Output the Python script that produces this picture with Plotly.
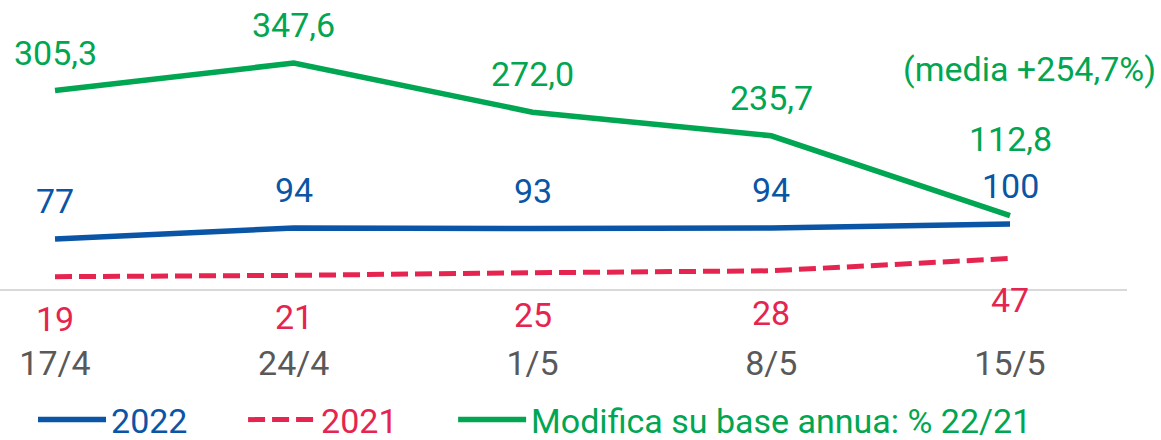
import plotly.graph_objects as go

categories = ["17/4", "24/4", "1/5", "8/5", "15/5"]
values_2022 = [77, 94, 93, 94, 100]
values_2021 = [19, 21, 25, 28, 47]
values_change = [305.3, 347.6, 272.0, 235.7, 112.8]

BLUE = "#0a55a5"
RED = "#e5254f"
GREEN = "#00a651"
GRAY = "#595959"
FONT = "Roboto"
FS = 34
PAD = "&nbsp;" * 6


def fmt(v):
    return f"{v:.1f}".replace(".", ",")


fig = go.Figure()
fig.add_trace(go.Scatter(
    x=categories, y=values_2022, mode="lines",
    line=dict(color=BLUE, width=5.5),
    name=f"<span style='color:{BLUE}'>2022</span>{PAD}"))
fig.add_trace(go.Scatter(
    x=categories, y=values_2021, mode="lines",
    line=dict(color=RED, width=5, dash="17px,7px"),
    name=f"<span style='color:{RED}'>2021</span>{PAD}"))
fig.add_trace(go.Scatter(
    x=categories, y=values_change, mode="lines",
    line=dict(color=GREEN, width=5.5),
    name=f"<span style='color:{GREEN}'>Modifica su base annua: % 22/21</span>"))

annotations = []
for i, c in enumerate(categories):
    annotations.append(dict(x=c, y=values_2022[i], text=str(values_2022[i]),
                            showarrow=False, yshift=38, yanchor="middle",
                            font=dict(color=BLUE, size=FS, family=FONT)))
    annotations.append(dict(x=c, y=values_2021[i], text=str(values_2021[i]),
                            showarrow=False, yshift=-42, yanchor="middle",
                            font=dict(color=RED, size=FS, family=FONT)))
    shift = 77 if i == len(categories) - 1 else 38
    annotations.append(dict(x=c, y=values_change[i], text=fmt(values_change[i]),
                            showarrow=False, yshift=shift, yanchor="middle",
                            font=dict(color=GREEN, size=FS, family=FONT)))

mean_change = sum(values_change) / len(values_change)
annotations.append(dict(xref="paper", yref="paper", x=1.0275, y=0.761,
                        xanchor="right", yanchor="middle", showarrow=False,
                        text=f"(media +{fmt(mean_change)}%)",
                        font=dict(color=GREEN, size=FS, family=FONT)))

fig.update_layout(
    width=1161, height=440,
    margin=dict(l=0, r=34, t=0, b=151, autoexpand=False),
    paper_bgcolor="white", plot_bgcolor="white",
    font=dict(family=FONT, size=FS, color=GRAY),
    showlegend=True,
    legend=dict(orientation="h", x=0.0293, xanchor="left", y=-0.4533,
                yanchor="middle", font=dict(size=FS, family=FONT),
                itemwidth=68, bgcolor="rgba(0,0,0,0)"),
    annotations=annotations,
    xaxis=dict(type="category", range=[-0.2304, 4.49], showgrid=False,
               showline=True, linecolor="#d9d9d9", linewidth=1.5,
               ticks="", ticklabelstandoff=43, automargin=False,
               tickfont=dict(size=FS, color=GRAY, family=FONT), zeroline=False),
    yaxis=dict(range=[0, 444.6], visible=False, showgrid=False, zeroline=False,
               automargin=False),
)

fig.write_html("out.html", config={"displayModeBar": False},
               post_script="document.body.style.margin='0';")
